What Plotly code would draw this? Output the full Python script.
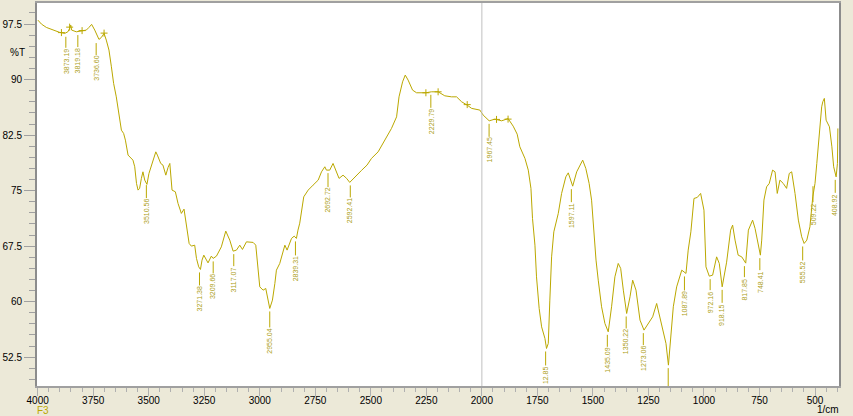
import plotly.graph_objects as go

# spectre IR (1/cm, %T)
wavenumber = [3999, 3983, 3961, 3931, 3901, 3878, 3864, 3856, 3851, 3847, 3826, 3800, 3781, 3769, 3757, 3743,
              3724, 3713, 3701, 3691, 3679, 3668, 3658, 3646, 3634, 3623, 3613, 3605, 3593, 3571, 3563, 3555,
              3548, 3541, 3533, 3526, 3518, 3508, 3499, 3488, 3477, 3468, 3461, 3446, 3436, 3423, 3413, 3405,
              3395, 3380, 3368, 3353, 3341, 3333, 3318, 3308, 3293, 3285, 3275, 3267, 3260, 3252, 3243, 3233,
              3218, 3210, 3195, 3173, 3153, 3143, 3135, 3120, 3105, 3090, 3078, 3060, 3030, 3018, 3008, 3000,
              2985, 2973, 2955, 2943, 2932, 2925, 2910, 2895, 2887, 2877, 2857, 2845, 2835, 2828, 2820, 2802,
              2782, 2760, 2737, 2722, 2707, 2700, 2685, 2670, 2654, 2643, 2625, 2609, 2595, 2572, 2542, 2517,
              2497, 2467, 2445, 2414, 2407, 2384, 2373, 2357, 2345, 2332, 2312, 2294, 2252, 2227, 2197, 2167,
              2137, 2114, 2091, 2066, 2046, 2009, 1994, 1967, 1941, 1911, 1882, 1859, 1841, 1829, 1806, 1791,
              1779, 1772, 1761, 1754, 1742, 1731, 1716, 1709, 1701, 1694, 1686, 1676, 1656, 1641, 1622, 1611,
              1591, 1573, 1559, 1546, 1532, 1517, 1506, 1494, 1486, 1476, 1461, 1446, 1431, 1416, 1401, 1386,
              1375, 1363, 1348, 1333, 1321, 1306, 1288, 1270, 1250, 1231, 1213, 1198, 1183, 1171, 1160, 1150,
              1138, 1123, 1100, 1081, 1071, 1059, 1045, 1030, 1015, 1000, 991, 976, 961, 943, 931, 918,
              898, 880, 871, 860, 846, 830, 812, 800, 790, 781, 770, 755, 746, 740, 730, 718,
              706, 691, 680, 670, 658, 643, 628, 616, 605, 590, 575, 560, 549, 537, 523, 510,
              500, 492, 480, 470, 465, 458, 450, 435, 424, 416, 405, 399, 397]
transmittance = [98.04, 97.50, 97.05, 96.69, 96.38, 96.24, 96.46, 96.92, 97.36, 96.69, 96.46, 96.59, 96.69, 97.05, 97.46, 96.69,
                 95.43, 95.70, 96.24, 95.34, 93.99, 91.73, 89.49, 87.67, 85.20, 83.17, 82.73, 81.82, 79.80, 79.12, 78.22, 75.97,
                 75.07, 75.30, 76.65, 77.54, 76.42, 75.84, 77.32, 78.44, 79.35, 80.24, 79.80, 78.67, 78.45, 77.09, 78.13, 78.67,
                 75.07, 74.84, 73.27, 71.92, 72.50, 71.01, 67.86, 67.50, 67.63, 65.84, 64.70, 64.35, 65.61, 66.28, 65.84, 65.24,
                 66.15, 65.84, 66.15, 67.40, 69.53, 68.76, 68.31, 66.82, 66.96, 67.63, 67.05, 68.08, 68.00, 67.63, 64.25, 62.00,
                 61.55, 61.78, 59.08, 60.20, 62.46, 64.25, 65.16, 66.73, 67.63, 66.96, 68.54, 68.85, 68.54, 69.66, 70.60, 74.16,
                 75.07, 75.74, 76.42, 77.54, 78.22, 77.77, 77.77, 78.67, 77.32, 76.65, 77.09, 76.65, 76.11, 76.86, 77.73, 78.45,
                 79.35, 80.24, 81.38, 82.94, 83.40, 84.97, 87.67, 89.70, 90.61, 89.93, 88.58, 88.22, 88.22, 88.35, 88.35, 87.81,
                 87.67, 87.67, 87.00, 86.55, 86.11, 85.88, 85.20, 84.43, 84.66, 84.43, 84.73, 83.71, 82.63, 80.92, 79.35, 77.77,
                 75.30, 71.24, 67.63, 63.35, 59.08, 56.59, 55.02, 53.67, 54.35, 60.20, 66.05, 69.43, 71.92, 74.62, 76.86, 77.40,
                 75.60, 77.54, 78.45, 79.12, 78.00, 75.97, 73.71, 67.86, 65.61, 62.90, 59.30, 57.05, 55.92, 59.30, 63.35, 65.16,
                 64.49, 61.55, 58.40, 60.65, 62.90, 61.55, 57.50, 56.15, 57.05, 57.95, 59.75, 57.95, 56.15, 54.35, 51.42, 54.80,
                 59.30, 61.99, 64.25, 63.81, 66.96, 69.43, 73.94, 74.08, 74.62, 72.36, 64.70, 63.44, 63.58, 66.05, 65.16, 62.00,
                 65.33, 69.66, 70.34, 68.31, 66.28, 66.05, 65.20, 69.66, 70.34, 71.01, 69.89, 67.86, 66.28, 68.31, 73.72, 75.51,
                 75.97, 77.77, 77.54, 74.62, 76.42, 75.97, 75.30, 77.32, 77.54, 74.62, 71.01, 68.76, 67.86, 68.31, 70.11, 74.16,
                 75.97, 78.67, 83.17, 86.32, 87.00, 87.46, 84.52, 83.62, 80.92, 78.22, 76.86, 78.67, 83.40]

# pics annotés
peak_wn = [3873.19, 3819.18, 3736.60, 3510.56, 3271.38, 3209.66, 3117.07, 2955.04, 2839.31, 2692.72,
           2592.41, 2229.79, 1967.45, 1712.85, 1597.11, 1435.09, 1350.22, 1273.06, 1161.0, 1087.89,
           972.16, 918.15, 817.85, 748.41, 555.52, 509.22, 408.92]
peak_text = ["3873.19", "3819.18", "3736.60", "3510.56", "3271.38", "3209.66", "3117.07", "2955.04", "2839.31", "2692.72",
             "2592.41", "2229.79", "1967.45", "12.85", "1597.11", "1435.09", "1350.22", "1273.06", "", "1087.89",
             "972.16", "918.15", "817.85", "748.41", "555.52", "509.22", "408.92"]
peak_T = [96.19, 96.42, 95.34, 76.15, 64.35, 65.84, 66.82, 59.08, 68.54, 77.77,
          76.11, 88.35, 84.43, 53.67, 75.60, 55.92, 58.40, 56.15, 51.42, 63.81,
          63.44, 62.00, 65.20, 66.28, 67.86, 76.00, 76.86]
stem_px = [11, 12, 12, 13, 13, 12, 12, 16, 14, 14, 12, 13, 13, 14, 13, 12, 12, 12, 18, 14, 11, 13, 11, 12, 14, 16, 13]

# petites croix sur la courbe
mark_wn = [3893, 3856, 3800, 3701, 2252, 2197, 2066, 1934, 1882]
mark_T = [96.35, 97.09, 96.62, 96.28, 88.22, 88.35, 86.62, 84.62, 84.66]

OLIVE = "#BBA800"
TXT = "#ADA020"
YMIN, YMAX = 48.6, 100.35
PLOT_H = 416 - 3 - 30
u = (YMAX - YMIN) / PLOT_H  # unités %T par pixel

fig = go.Figure()
fig.add_trace(go.Scatter(x=wavenumber, y=transmittance, mode="lines",
                         line=dict(color=OLIVE, width=1), hoverinfo="x+y"))
fig.add_trace(go.Scatter(x=mark_wn, y=mark_T, mode="markers",
                         marker=dict(symbol="cross-thin", size=5, line=dict(color=OLIVE, width=1))))

# curseur vertical à 2000
fig.add_shape(type="line", x0=2000, x1=2000, y0=0, y1=1, yref="paper",
              line=dict(color="#C0C0C0", width=1))

gap = 3
for wn, txt, t, s in zip(peak_wn, peak_text, peak_T, stem_px):
    fig.add_shape(type="line", x0=wn, x1=wn, y0=t - gap * u, y1=t - (gap + s) * u,
                  line=dict(color=OLIVE, width=1))
    if txt:
        fig.add_annotation(x=wn, y=t, yshift=-(gap + s), text=txt, showarrow=False,
                           textangle=-90, xanchor="center", yanchor="top", borderpad=0,
                           font=dict(size=7, color=TXT, family="Liberation Sans"))

fig.add_annotation(x=-0.024, y=0.871, xref="paper", yref="paper", text="%T", showarrow=False,
                   xanchor="center", yanchor="middle", font=dict(size=10, color="black"))
fig.add_annotation(x=0.0072, y=-0.063, xref="paper", yref="paper", text="F3", showarrow=False,
                   xanchor="center", yanchor="middle", font=dict(size=10, color=OLIVE))
fig.add_annotation(x=0.986, y=-0.061, xref="paper", yref="paper", text="1/cm", showarrow=False,
                   xanchor="center", yanchor="middle", font=dict(size=10, color="black"))

fig.update_layout(
    width=853, height=416,
    margin=dict(l=37, r=14, t=3, b=30),
    paper_bgcolor="#ECE9D8", plot_bgcolor="white",
    showlegend=False,
    font=dict(family="Liberation Sans", size=10, color="black"),
    xaxis=dict(range=[4003, 392], tickmode="linear", tick0=0, dtick=250, automargin=False,
               ticks="outside", ticklen=8, tickcolor="#B0B0B0", showgrid=False, zeroline=False,
               ticklabelstandoff=-4,
               showline=True, linecolor="#A0A0A0", linewidth=1.5, mirror=True,
               minor=dict(dtick=50, ticklen=4, tickcolor="#B0B0B0", ticks="outside")),
    yaxis=dict(range=[YMIN, YMAX], tickmode="linear", tick0=0, dtick=7.5, automargin=False,
               ticks="outside", ticklen=11, tickcolor="#A0A0A0", showgrid=False, zeroline=False,
               showline=True, linecolor="#8C8C8C", linewidth=2, mirror=True,
               minor=dict(dtick=1.5, ticklen=6, tickcolor="#A0A0A0", ticks="outside")),
)

# la page a une marge de 8px par défaut
fig.write_html("out.html", config={"displayModeBar": False},
               post_script="document.body.style.margin='0';")
